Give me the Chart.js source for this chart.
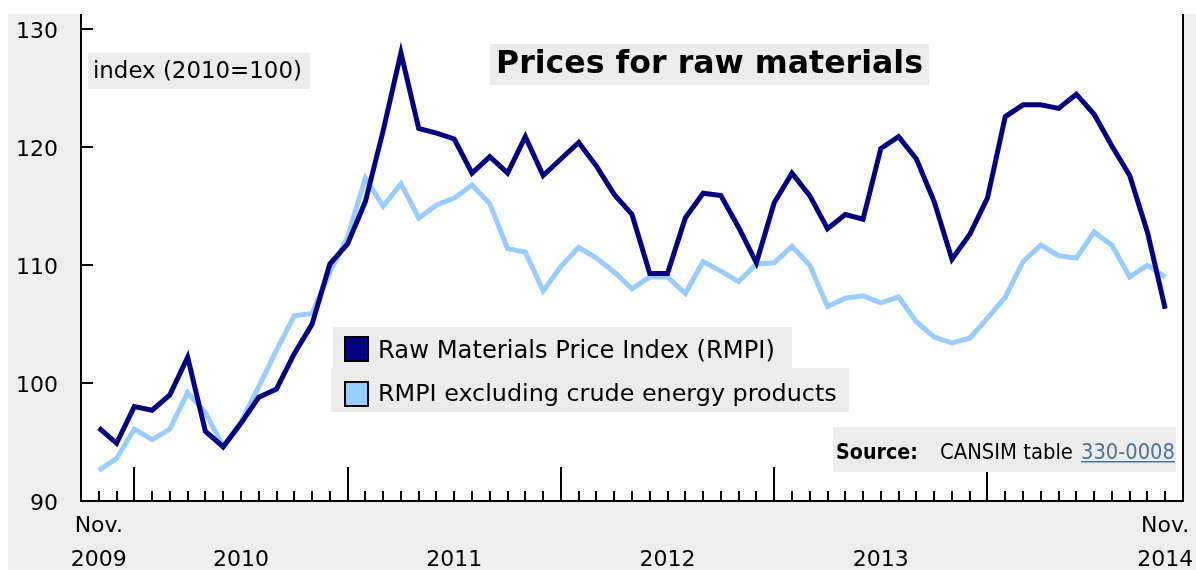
<!DOCTYPE html>
<html>
<head>
<meta charset="utf-8">
<script src="https://cdn.jsdelivr.net/npm/chart.js@4.4.1/dist/chart.umd.min.js"></script>
<style>
    html, body { margin: 0; padding: 0; background: #ffffff; }
    #wrap { width: 1196px; height: 570px; }
</style>
</head>
<body>
<div id="wrap"><canvas id="rmpiChart" width="1196" height="570"></canvas></div>
<script>
// Monatswerte Nov. 2009 - Nov. 2014 (Index 2010=100)
const months = [
    'Nov 2009', 'Dec 2009',
    'Jan 2010', 'Feb 2010', 'Mar 2010', 'Apr 2010', 'May 2010', 'Jun 2010', 'Jul 2010', 'Aug 2010', 'Sep 2010', 'Oct 2010', 'Nov 2010', 'Dec 2010',
    'Jan 2011', 'Feb 2011', 'Mar 2011', 'Apr 2011', 'May 2011', 'Jun 2011', 'Jul 2011', 'Aug 2011', 'Sep 2011', 'Oct 2011', 'Nov 2011', 'Dec 2011',
    'Jan 2012', 'Feb 2012', 'Mar 2012', 'Apr 2012', 'May 2012', 'Jun 2012', 'Jul 2012', 'Aug 2012', 'Sep 2012', 'Oct 2012', 'Nov 2012', 'Dec 2012',
    'Jan 2013', 'Feb 2013', 'Mar 2013', 'Apr 2013', 'May 2013', 'Jun 2013', 'Jul 2013', 'Aug 2013', 'Sep 2013', 'Oct 2013', 'Nov 2013', 'Dec 2013',
    'Jan 2014', 'Feb 2014', 'Mar 2014', 'Apr 2014', 'May 2014', 'Jun 2014', 'Jul 2014', 'Aug 2014', 'Sep 2014', 'Oct 2014', 'Nov 2014'
];

const rmpi = [
    96.2, 94.9,
    98.0, 97.7, 99.0, 102.2, 95.9, 94.6, 96.6, 98.8, 99.5, 102.5, 105.0, 110.1,
    111.8, 115.4, 121.4, 128.0, 121.6, 121.2, 120.7, 117.8, 119.2, 117.8, 120.9, 117.6,
    119.0, 120.4, 118.4, 116.0, 114.3, 109.3, 109.3, 114.0, 116.1, 115.9, 113.2, 110.2,
    115.3, 117.8, 115.9, 113.1, 114.3, 113.9, 119.9, 120.9, 119.0, 115.4, 110.5, 112.6,
    115.7, 122.6, 123.6, 123.6, 123.3, 124.5, 122.8, 120.1, 117.6, 112.8, 106.3
];

const rmpiExEnergy = [
    92.6, 93.6,
    96.1, 95.2, 96.1, 99.2, 97.5, 94.6, 96.7, 99.7, 102.8, 105.7, 105.9, 109.4,
    112.4, 117.4, 115.0, 116.9, 114.0, 115.1, 115.7, 116.8, 115.2, 111.4, 111.1, 107.8,
    109.9, 111.5, 110.6, 109.4, 108.0, 109.0, 109.0, 107.6, 110.3, 109.5, 108.6, 110.1,
    110.2, 111.6, 110.0, 106.5, 107.2, 107.4, 106.8, 107.3, 105.2, 103.9, 103.4, 103.8,
    105.5, 107.3, 110.3, 111.7, 110.8, 110.6, 112.8, 111.7, 109.0, 110.0, 109.0
];

const yTicks = [90, 100, 110, 120, 130];
const seriesNames = ['Raw Materials Price Index (RMPI)', 'RMPI excluding crude energy products'];
const chartTitle = 'Prices for raw materials';
const unitNote = 'index (2010=100)';
const sourceLabel = 'Source:';
const sourceText = 'CANSIM table';
const sourceTable = '330-0008';

const FONT = "'DejaVu Sans', Verdana, sans-serif";
const NARROW = "'Liberation Sans Narrow', 'DejaVu Sans Condensed', 'Arial Narrow', sans-serif";
const PANEL = '#eeeeee';
const BOX = '#ececec';

// Schriftgröße so wählen, dass der Text eine bestimmte Breite hat
function fitFont(ctx, text, weight, family, width) {
    ctx.font = `${weight} 40px ${family}`;
    const size = 40 * width / ctx.measureText(text).width;
    ctx.font = `${weight} ${size}px ${family}`;
    return size;
}

const decorPlugin = {
    id: 'decor',
    beforeDraw(chart) {
        const { ctx, chartArea: a } = chart;
        ctx.save();
        ctx.fillStyle = '#ffffff';
        ctx.fillRect(0, 0, chart.width, chart.height);
        ctx.fillStyle = PANEL;
        ctx.fillRect(8, a.top, chart.width - 8, chart.height - a.top);
        ctx.fillStyle = '#ffffff';
        ctx.fillRect(a.left, a.top, a.right - a.left, a.bottom - a.top);
        ctx.restore();
    },
    afterDatasetsDraw(chart) {
        const { ctx, chartArea: a, scales } = chart;
        const xs = scales.x, ys = scales.y;
        ctx.save();

        // Achsen und Rahmen
        ctx.strokeStyle = '#000000';
        ctx.lineWidth = 2;
        ctx.beginPath();
        ctx.moveTo(a.left, a.top);
        ctx.lineTo(a.left, a.bottom);
        ctx.lineTo(a.right, a.bottom);
        ctx.lineTo(a.right, a.top);
        ctx.stroke();

        // Tick-Striche nach innen
        ctx.beginPath();
        months.forEach((m, i) => {
            const x = Math.round(xs.getPixelForValue(i));
            const len = m.startsWith('Jan') ? 34 : 10;
            ctx.moveTo(x, a.bottom);
            ctx.lineTo(x, a.bottom - len);
        });
        yTicks.slice(1).forEach(v => {
            const y = Math.round(ys.getPixelForValue(v));
            ctx.moveTo(a.left, y);
            ctx.lineTo(a.left + 12, y);
        });
        ctx.stroke();

        ctx.textBaseline = 'alphabetic';
        ctx.textAlign = 'left';

        // Titel
        ctx.fillStyle = BOX;
        ctx.fillRect(490, 44, 439, 41);
        ctx.fillStyle = '#000000';
        fitFont(ctx, chartTitle, 'bold', FONT, 427);
        ctx.fillText(chartTitle, 496, 73);

        // Einheit
        ctx.fillStyle = BOX;
        ctx.fillRect(88, 53, 222, 36);
        ctx.fillStyle = '#000000';
        fitFont(ctx, unitNote, 'normal', FONT, 209);
        ctx.fillText(unitNote, 93, 78);

        // Legende
        const rows = [
            { box: [333, 327, 459, 41], sq: 337, base: 358, w: 397 },
            { box: [331, 368, 518, 44], sq: 382, base: 401, w: 459 }
        ];
        chart.data.datasets.forEach((ds, i) => {
            const r = rows[i];
            ctx.fillStyle = BOX;
            ctx.fillRect(...r.box);
            ctx.fillStyle = ds.borderColor;
            ctx.fillRect(345, r.sq, 23, 24);
            ctx.lineWidth = 2;
            ctx.strokeStyle = '#000000';
            ctx.strokeRect(345, r.sq, 23, 24);
            ctx.fillStyle = '#000000';
            fitFont(ctx, ds.label, 'normal', FONT, r.w);
            ctx.fillText(ds.label, 378, r.base);
        });

        // Quelle
        ctx.fillStyle = BOX;
        ctx.fillRect(833, 427, 343, 45);
        ctx.fillStyle = '#000000';
        fitFont(ctx, sourceLabel, 'bold', NARROW, 82);
        ctx.fillText(sourceLabel, 836, 459);
        fitFont(ctx, sourceText, 'normal', NARROW, 133);
        ctx.fillText(sourceText, 940, 459);
        ctx.fillStyle = '#4d7396';
        fitFont(ctx, sourceTable, 'normal', NARROW, 94);
        ctx.fillText(sourceTable, 1081, 459);
        ctx.fillRect(1081, 461, 94, 1.5);

        ctx.restore();
    }
};

new Chart(document.getElementById('rmpiChart'), {
    type: 'line',
    data: {
        datasets: [
            {
                label: seriesNames[0],
                data: rmpi.map((v, i) => ({ x: i, y: v })),
                borderColor: '#020280',
                borderWidth: 5,
                pointRadius: 0,
                tension: 0,
                fill: false
            },
            {
                label: seriesNames[1],
                data: rmpiExEnergy.map((v, i) => ({ x: i, y: v })),
                borderColor: '#99ccff',
                borderWidth: 5,
                pointRadius: 0,
                tension: 0,
                fill: false
            }
        ]
    },
    options: {
        responsive: false,
        animation: false,
        devicePixelRatio: 1,
        layout: { padding: { left: 0, top: 14, right: 13, bottom: 0 } },
        plugins: {
            legend: { display: false },
            tooltip: { enabled: false }
        },
        scales: {
            x: {
                type: 'linear',
                min: -1,
                max: months.length,
                grid: { display: false, drawTicks: false },
                border: { display: false },
                afterFit: (scale) => {
                    scale.height = 69;
                    scale.paddingLeft = 0;
                    scale.paddingRight = 0;
                },
                ticks: {
                    stepSize: 1,
                    autoSkip: false,
                    maxRotation: 0,
                    minRotation: 0,
                    padding: 8,
                    color: '#000000',
                    font: { family: FONT, size: 22, lineHeight: 1.55 },
                    callback: (value) => {
                        const m = months[value];
                        if (!m) return '';
                        const [mon, yr] = m.split(' ');
                        if (value === 0 || value === months.length - 1) return [mon + '.', yr];
                        // Jahreszahl nur für volle Jahre, mittig (Juli)
                        if (mon === 'Jul' && months.includes('Jan ' + yr) && months.includes('Dec ' + yr)) return ['', yr];
                        return '';
                    }
                }
            },
            y: {
                min: yTicks[0],
                max: 131.3,
                grid: { display: false, drawTicks: false },
                border: { display: false },
                afterFit: (scale) => {
                    scale.width = 81;
                    scale.paddingTop = 0;
                    scale.paddingBottom = 0;
                },
                ticks: {
                    stepSize: 10,
                    includeBounds: false,
                    padding: 23,
                    labelOffset: 3,
                    color: '#000000',
                    font: { family: FONT, size: 22 }
                }
            }
        }
    },
    plugins: [decorPlugin]
});
</script>
</body>
</html>
